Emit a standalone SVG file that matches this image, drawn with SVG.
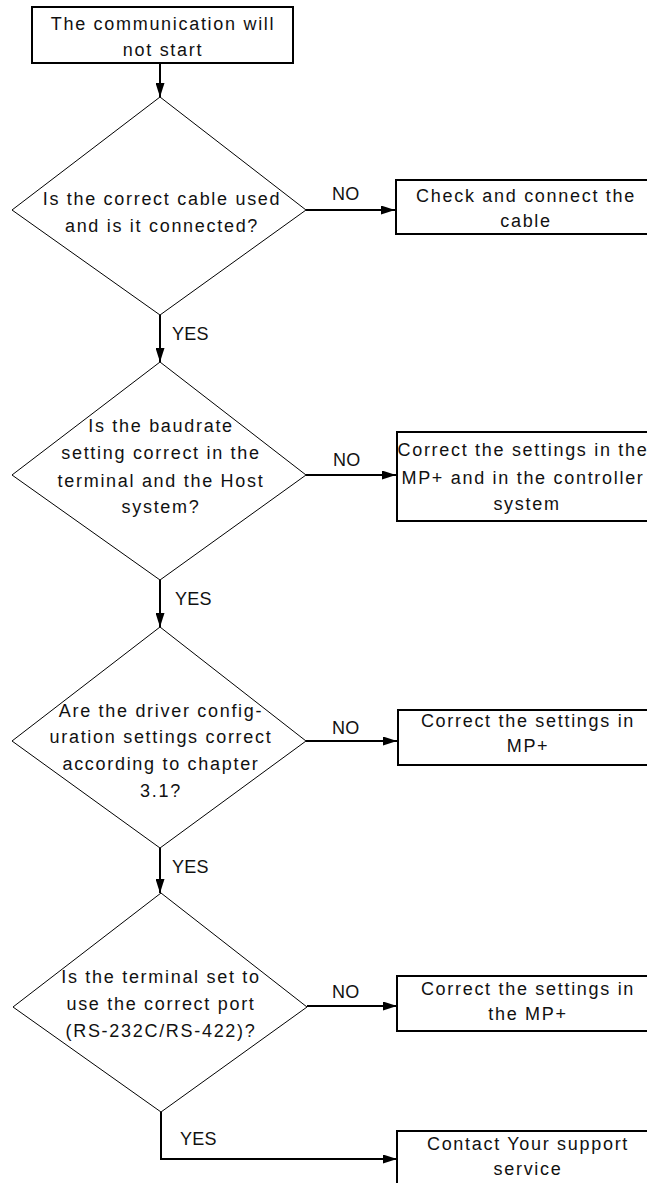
<svg xmlns="http://www.w3.org/2000/svg" width="647" height="1183" viewBox="0 0 647 1183">
<defs>
<style>
.box{fill:#fff;stroke:#000;stroke-width:2}
.dia{fill:#fff;stroke:#000;stroke-width:1}
.con{fill:none;stroke:#000;stroke-width:2}
text{font-family:"Liberation Sans",Arial,sans-serif;font-size:18px;letter-spacing:1.7px;fill:#111}
.c{text-anchor:middle}
.lbl{font-size:18px;letter-spacing:0.3px}
</style>
<marker id="ah" markerUnits="userSpaceOnUse" markerWidth="14" markerHeight="9" refX="14" refY="4.5" orient="auto" viewBox="0 0 14 9">
<path d="M0,0 L14,4.5 L0,9 z" fill="#000"/>
</marker>
</defs>
<rect width="647" height="1183" fill="#fff"/>
<g id="connectors">
<line class="con" x1="160" y1="63" x2="160" y2="97" marker-end="url(#ah)"/>
<line class="con" x1="306" y1="210" x2="395" y2="210" marker-end="url(#ah)"/>
<line class="con" x1="160" y1="315" x2="160" y2="362" marker-end="url(#ah)"/>
<line class="con" x1="306" y1="475" x2="396" y2="475" marker-end="url(#ah)"/>
<line class="con" x1="160" y1="580" x2="160" y2="627" marker-end="url(#ah)"/>
<line class="con" x1="306" y1="741" x2="397" y2="741" marker-end="url(#ah)"/>
<line class="con" x1="160" y1="848" x2="160" y2="893" marker-end="url(#ah)"/>
<line class="con" x1="307" y1="1006" x2="397" y2="1006" marker-end="url(#ah)"/>
<polyline class="con" points="161,1112 161,1159 397,1159" marker-end="url(#ah)"/>
<text class="lbl" x="332" y="200">NO</text>
<text class="lbl" x="172" y="340">YES</text>
<text class="lbl" x="333" y="466">NO</text>
<text class="lbl" x="175" y="605">YES</text>
<text class="lbl" x="332" y="734">NO</text>
<text class="lbl" x="172" y="873">YES</text>
<text class="lbl" x="332" y="998">NO</text>
<text class="lbl" x="180" y="1145">YES</text>
</g>
<g id="start">
<rect class="box" x="32" y="7" width="261" height="56"/>
<text class="c" x="163" y="30">The communication will</text>
<text class="c" x="163" y="56">not start</text>
</g>
<g id="q1">
<polygon class="dia" points="160,97 306,210 160,315 12,210"/>
<text class="c" x="162" y="205">Is the correct cable used</text>
<text class="c" x="162" y="232">and is it connected?</text>
</g>
<g id="a1">
<rect class="box" x="396" y="180" width="270" height="54"/>
<text class="c" x="526" y="202">Check and connect the</text>
<text class="c" x="526" y="227">cable</text>
</g>
<g id="q2">
<polygon class="dia" points="160,362 306,475 160,580 12,475"/>
<text class="c" x="161" y="432">Is the baudrate</text>
<text class="c" x="161" y="459">setting correct in the</text>
<text class="c" x="161" y="487">terminal and the Host</text>
<text class="c" x="161" y="513">system?</text>
</g>
<g id="a2">
<rect class="box" x="397" y="432" width="270" height="89"/>
<text class="c" x="523" y="456">Correct the settings in the</text>
<text class="c" x="523" y="484">MP+ and in the controller</text>
<text class="c" x="527" y="510">system</text>
</g>
<g id="q3">
<polygon class="dia" points="160,627 306,741 160,848 12,741"/>
<text class="c" x="161" y="717">Are the driver config-</text>
<text class="c" x="161" y="743">uration settings correct</text>
<text class="c" x="161" y="770">according to chapter</text>
<text class="c" x="161" y="797">3.1?</text>
</g>
<g id="a3">
<rect class="box" x="398" y="710" width="270" height="55"/>
<text class="c" x="528" y="727">Correct the settings in</text>
<text class="c" x="528" y="752">MP+</text>
</g>
<g id="q4">
<polygon class="dia" points="161,893 307,1007 161,1112 13,1007"/>
<text class="c" x="161" y="983">Is the terminal set to</text>
<text class="c" x="161" y="1010">use the correct port</text>
<text class="c" x="161" y="1037">(RS-232C/RS-422)?</text>
</g>
<g id="a4">
<rect class="box" x="397" y="976" width="270" height="55"/>
<text class="c" x="528" y="995">Correct the settings in</text>
<text class="c" x="528" y="1020">the MP+</text>
</g>
<g id="a5">
<rect class="box" x="397" y="1131" width="270" height="70"/>
<text class="c" x="528" y="1150">Contact Your support</text>
<text class="c" x="528" y="1175">service</text>
</g>
</svg>
